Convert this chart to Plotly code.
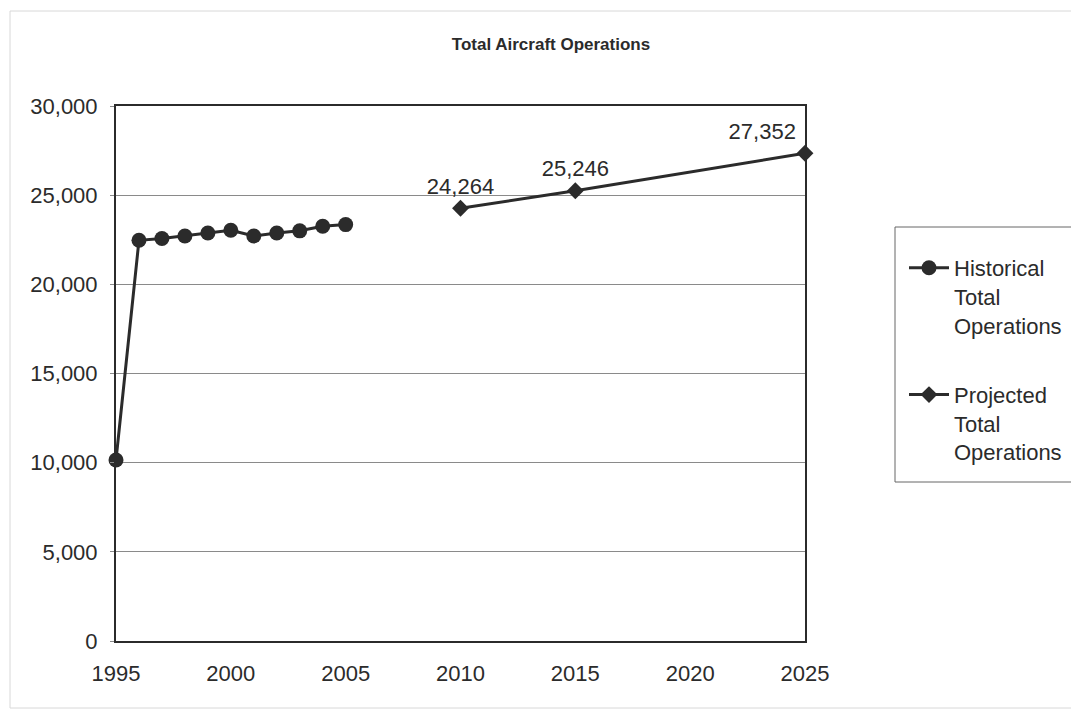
import plotly.graph_objects as go

hist_years = [1995, 1996, 1997, 1998, 1999, 2000, 2001, 2002, 2003, 2004, 2005]
hist_ops = [10150, 22470, 22570, 22710, 22880, 23030, 22710, 22880, 23000, 23260, 23350]

proj_years = [2010, 2015, 2025]
proj_ops = [24264, 25246, 27352]
proj_labels = ["24,264", "25,246", "27,352"]

title_text = "Total Aircraft Operations"
y_ticks = [0, 5000, 10000, 15000, 20000, 25000, 30000]
x_ticks = [1995, 2000, 2005, 2010, 2015, 2020, 2025]

dark = "#2b2b2b"
font_family = "Liberation Sans, Arial, sans-serif"

fig = go.Figure()
fig.add_trace(go.Scatter(
    x=hist_years, y=hist_ops, mode="lines+markers",
    name="Historical<br>Total<br>Operations",
    line=dict(color=dark, width=3),
    marker=dict(symbol="circle", size=15, color=dark),
    legendgroup="h", cliponaxis=False,
))
fig.add_trace(go.Scatter(
    x=proj_years, y=proj_ops, mode="lines+markers+text",
    name="Projected<br>Total<br>Operations",
    text=proj_labels,
    textposition=["top center", "top center", "top left"],
    textfont=dict(size=22, color=dark, family=font_family),
    line=dict(color=dark, width=3),
    marker=dict(symbol="diamond", size=13, color=dark),
    legendgroup="p", cliponaxis=False,
))

# legend frame (drawn as a shape to allow Excel-like padding)
fig.add_shape(type="rect", xref="paper", yref="paper",
              x0=(887 - 108) / 689, x1=(1067 - 108) / 689,
              y0=(633 - 474) / 535, y1=(633 - 219) / 535,
              line=dict(color="#666666", width=1), fillcolor="rgba(0,0,0,0)",
              layer="below")
# faint outer chart frame
fig.add_shape(type="rect", xref="paper", yref="paper",
              x0=(2 - 108) / 689, x1=(1069 - 108) / 689,
              y0=(633 - 700) / 535, y1=(633 - 3) / 535,
              line=dict(color="#d8d8d8", width=1), fillcolor="rgba(0,0,0,0)",
              layer="below")

fig.update_layout(
    width=1079, height=711,
    paper_bgcolor="white", plot_bgcolor="white",
    margin=dict(l=108, r=282, t=98, b=78),
    font=dict(family=font_family, size=22, color=dark),
    title=dict(text="<b>" + title_text + "</b>", x=543 / 1079, xanchor="center",
               y=1 - 36 / 711, yanchor="middle",
               font=dict(size=17, color=dark, family=font_family)),
    showlegend=True,
    legend=dict(x=(896 - 108) / 689, xanchor="left", y=(633 - 239) / 535, yanchor="top",
                borderwidth=0, bgcolor="rgba(0,0,0,0)",
                font=dict(size=22, color=dark), tracegroupgap=38,
                itemwidth=40, valign="top"),
    xaxis=dict(range=[1995, 2025], tickmode="array", tickvals=x_ticks,
               ticktext=[str(v) for v in x_ticks],
               showgrid=False, zeroline=False, showline=True,
               linecolor=dark, linewidth=2, mirror=True,
               ticks="", ticklabelstandoff=12),
    yaxis=dict(range=[0, 30000], tickmode="array", tickvals=y_ticks,
               ticktext=[f"{v:,}" for v in y_ticks],
               showgrid=True, gridcolor="#8a8a8a", gridwidth=1,
               zeroline=False, showline=True,
               linecolor=dark, linewidth=2, mirror=True,
               ticks="outside", ticklen=4, tickcolor="#8a8a8a",
               ticklabelstandoff=8),
)

fig.write_html("out.html")
